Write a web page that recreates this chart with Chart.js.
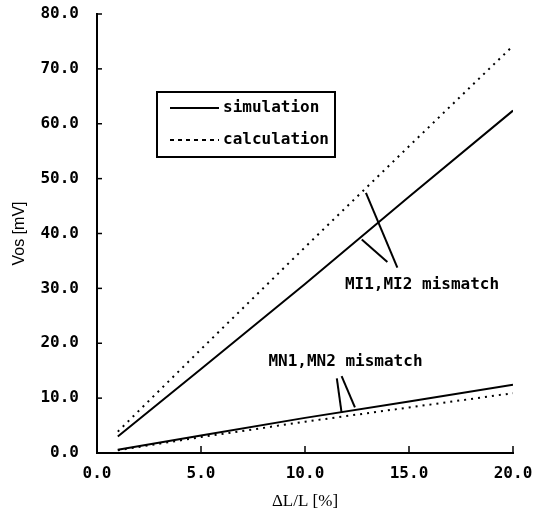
<!DOCTYPE html>
<html>
<head>
<meta charset="utf-8">
<script src="https://cdn.jsdelivr.net/npm/chart.js@4.4.0/dist/chart.umd.min.js"></script>
<style>
  html, body { margin: 0; padding: 0; background: #fff; }
</style>
</head>
<body>
<canvas id="c" width="534" height="515"></canvas>
<script>
// ΔL/L [%] values where the curves were sampled
const dL = [1, 5, 10, 15, 20];
const miSim = [3.0, 15.3, 30.8, 46.7, 62.4];
const miCalc = [3.9, 18.9, 37.5, 55.9, 74.2];
const mnSim = [0.6, 3.2, 6.4, 9.4, 12.45];
const mnCalc = [0.5, 2.9, 5.7, 8.3, 10.9];
const xTicks = [0, 5, 10, 15, 20];
const yTicks = [0, 10, 20, 30, 40, 50, 60, 70, 80];
const legendLabels = ['simulation', 'calculation'];
const noteLabels = ['MI1,MI2 mismatch', 'MN1,MN2 mismatch'];

// pointer lines for the notes, in data units
const pointers = [
  [12.93, 47.4, 14.44, 33.8],
  [12.73, 38.9, 13.96, 34.8],
  [11.53, 13.6, 11.76, 7.3],
  [11.76, 14.0, 12.4, 8.3]
];
const notePos = [[11.92, 30.6], [8.24, 16.6]];

const pts = ys => dL.map((x, i) => ({x: x, y: ys[i]}));
const solid = {borderColor: '#000', borderWidth: 2, pointRadius: 0, tension: 0, fill: false};
const dotted = {...solid, borderDash: [2, 5]};

const monoFont = 'bold 16px "DejaVu Sans Mono"';

const decor = {
  id: 'decor',
  afterDraw(chart) {
    const {ctx, scales: {x, y}} = chart;
    ctx.save();
    ctx.strokeStyle = '#000';
    ctx.fillStyle = '#000';
    // inward tick marks
    ctx.lineWidth = 1.5;
    xTicks.forEach(v => {
      const px = x.getPixelForValue(v);
      ctx.beginPath(); ctx.moveTo(px, y.bottom); ctx.lineTo(px, y.bottom - 7); ctx.stroke();
    });
    yTicks.forEach(v => {
      const py = y.getPixelForValue(v);
      ctx.beginPath(); ctx.moveTo(x.left, py); ctx.lineTo(x.left + 5, py); ctx.stroke();
    });
    // pointer lines
    ctx.lineWidth = 2;
    pointers.forEach(p => {
      ctx.beginPath();
      ctx.moveTo(x.getPixelForValue(p[0]), y.getPixelForValue(p[1]));
      ctx.lineTo(x.getPixelForValue(p[2]), y.getPixelForValue(p[3]));
      ctx.stroke();
    });
    // notes
    ctx.font = monoFont;
    ctx.textBaseline = 'middle';
    ctx.textAlign = 'left';
    noteLabels.forEach((t, i) => {
      ctx.fillText(t, x.getPixelForValue(notePos[i][0]), y.getPixelForValue(notePos[i][1]));
    });
    // legend box
    const bx = chart.chartArea.left + 60, by = chart.chartArea.top + 78;
    ctx.lineWidth = 2;
    ctx.strokeRect(bx, by, 178, 65);
    const ds = chart.data.datasets;
    legendLabels.forEach((t, i) => {
      const ly = by + 16 + i * 32;
      ctx.beginPath();
      ctx.setLineDash(ds[i].borderDash ? [4, 4] : []);
      ctx.moveTo(bx + 13, ly); ctx.lineTo(bx + 62, ly);
      ctx.stroke();
      ctx.setLineDash([]);
      ctx.fillText(t, bx + 66, ly);
    });
    ctx.restore();
  }
};

new Chart(document.getElementById('c'), {
  type: 'line',
  data: {
    datasets: [
      {label: 'MI1,MI2 simulation', data: pts(miSim), ...solid},
      {label: 'MI1,MI2 calculation', data: pts(miCalc), ...dotted},
      {label: 'MN1,MN2 simulation', data: pts(mnSim), ...solid},
      {label: 'MN1,MN2 calculation', data: pts(mnCalc), ...dotted}
    ]
  },
  options: {
    responsive: false,
    animation: false,
    layout: {padding: {top: 14, right: 21, left: 0, bottom: 0}},
    plugins: {legend: {display: false}, tooltip: {enabled: false}},
    scales: {
      x: {
        type: 'linear', min: 0, max: 20,
        afterFit: s => { s.height = 62; s.paddingLeft = 0; s.paddingRight = 0; },
        afterBuildTicks: s => { s.ticks = xTicks.map(v => ({value: v})); },
        grid: {display: false, drawTicks: false},
        border: {display: true, color: '#000', width: 2},
        ticks: {color: '#000', padding: 11, font: {family: 'DejaVu Sans Mono', size: 16, weight: 'bold'},
                callback: v => v.toFixed(1)},
        title: {display: true, text: 'ΔL/L [%]', color: '#000', padding: {top: 0, bottom: 3},
                font: {family: 'Liberation Serif', size: 17}}
      },
      y: {
        type: 'linear', min: 0, max: 80,
        afterFit: s => { s.width = 97; s.paddingTop = 0; s.paddingBottom = 0; },
        afterBuildTicks: s => { s.ticks = yTicks.map(v => ({value: v})); },
        grid: {display: false, drawTicks: false},
        border: {display: true, color: '#000', width: 2},
        ticks: {color: '#000', padding: 18, font: {family: 'DejaVu Sans Mono', size: 16, weight: 'bold'},
                callback: v => v.toFixed(1)},
        title: {display: true, text: 'Vos [mV]', color: '#000', padding: {top: 10, bottom: 0},
                font: {family: 'Liberation Sans', size: 16}}
      }
    }
  },
  plugins: [decor]
});
</script>
</body>
</html>
